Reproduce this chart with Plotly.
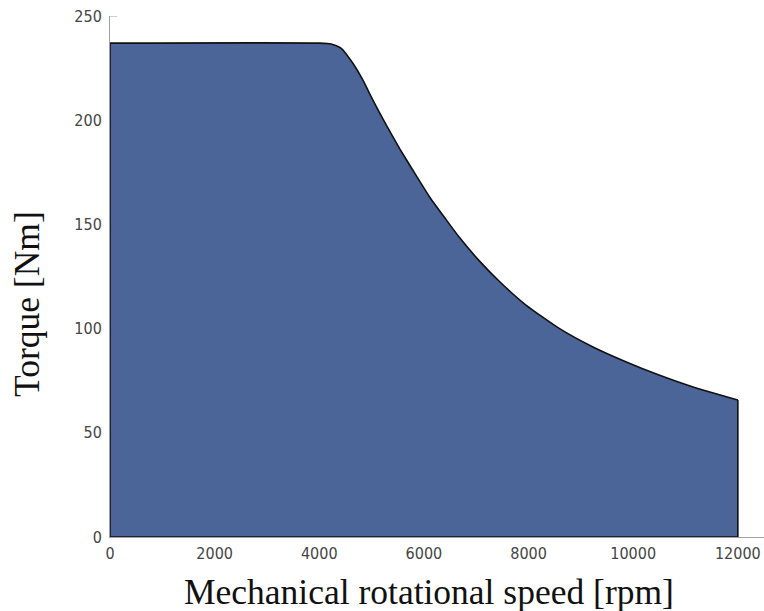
import plotly.graph_objects as go

# Data
speed_rpm = [0, 4000, 4230, 4420, 4642, 4832, 5023, 5279, 5533, 5786, 6105,
             6424, 6677, 7059, 7440, 7950, 8585, 9221, 9857, 10493, 11129, 12000]
torque_nm = [237, 237, 236.6, 234.5, 227.3, 219.3, 209.7, 197.7, 186.5, 176.1, 163.3,
             152.3, 143.8, 132.5, 122.7, 111.3, 100.1, 91.3, 84.1, 77.7, 72.1, 65.7]

x_ticks = [0, 2000, 4000, 6000, 8000, 10000, 12000]
x_ticktext = ["0", "2000", "4000", "6000", "8000", "10000", "12000"]
y_ticks = [0, 50, 100, 150, 200, 250]

x_title = "Mechanical rotational speed [rpm]"
y_title = "Torque [Nm]"

fig = go.Figure()
# filled area under the torque envelope, with the smooth curve outlined
fig.add_trace(go.Scatter(
    x=speed_rpm, y=torque_nm, mode="lines", fill="tozeroy",
    fillcolor="#4b6598",
    line=dict(color="#111111", width=1.6, shape="spline", smoothing=0.5),
    hoverinfo="skip", showlegend=False,
))
# outline of the left edge, bottom and right edge of the area
fig.add_trace(go.Scatter(
    x=[speed_rpm[0], speed_rpm[0], speed_rpm[-1], speed_rpm[-1]],
    y=[torque_nm[0], 0, 0, torque_nm[-1]],
    mode="lines", line=dict(color="#111111", width=1.6),
    hoverinfo="skip", showlegend=False, cliponaxis=False,
))

tick_font = dict(family="DejaVu Sans Condensed", size=16, color="#444444")
title_font = dict(family="Liberation Serif", size=35.5, color="#111111")

fig.update_layout(
    width=764, height=611,
    margin=dict(l=110, r=0, t=16, b=74),
    plot_bgcolor="white", paper_bgcolor="white",
    xaxis=dict(range=[0, 12500], tickvals=x_ticks, ticktext=x_ticktext,
               showgrid=False, zeroline=False,
               showline=True, linecolor="#a0a0a0", linewidth=1, ticks="",
               tickfont=tick_font, ticklabelstandoff=2),
    yaxis=dict(range=[0, 250], tickvals=y_ticks, showgrid=False, zeroline=False,
               showline=True, linecolor="#a0a0a0", linewidth=1, ticks="",
               tickfont=tick_font, ticklabelstandoff=4),
    shapes=[dict(type="line", xref="x domain", yref="y", x0=0, x1=0.011,
                 y0=250, y1=250, line=dict(color="#a0a0a0", width=1))],
    annotations=[
        dict(text=x_title, xref="paper", yref="paper", x=0.488, y=-0.105,
             xanchor="center", yanchor="middle", showarrow=False, font=title_font),
        dict(text=y_title, xref="paper", yref="paper", x=-0.127, y=0.447,
             xanchor="center", yanchor="middle", textangle=-90, showarrow=False,
             font=title_font),
    ],
)

fig.write_html("out.html")
